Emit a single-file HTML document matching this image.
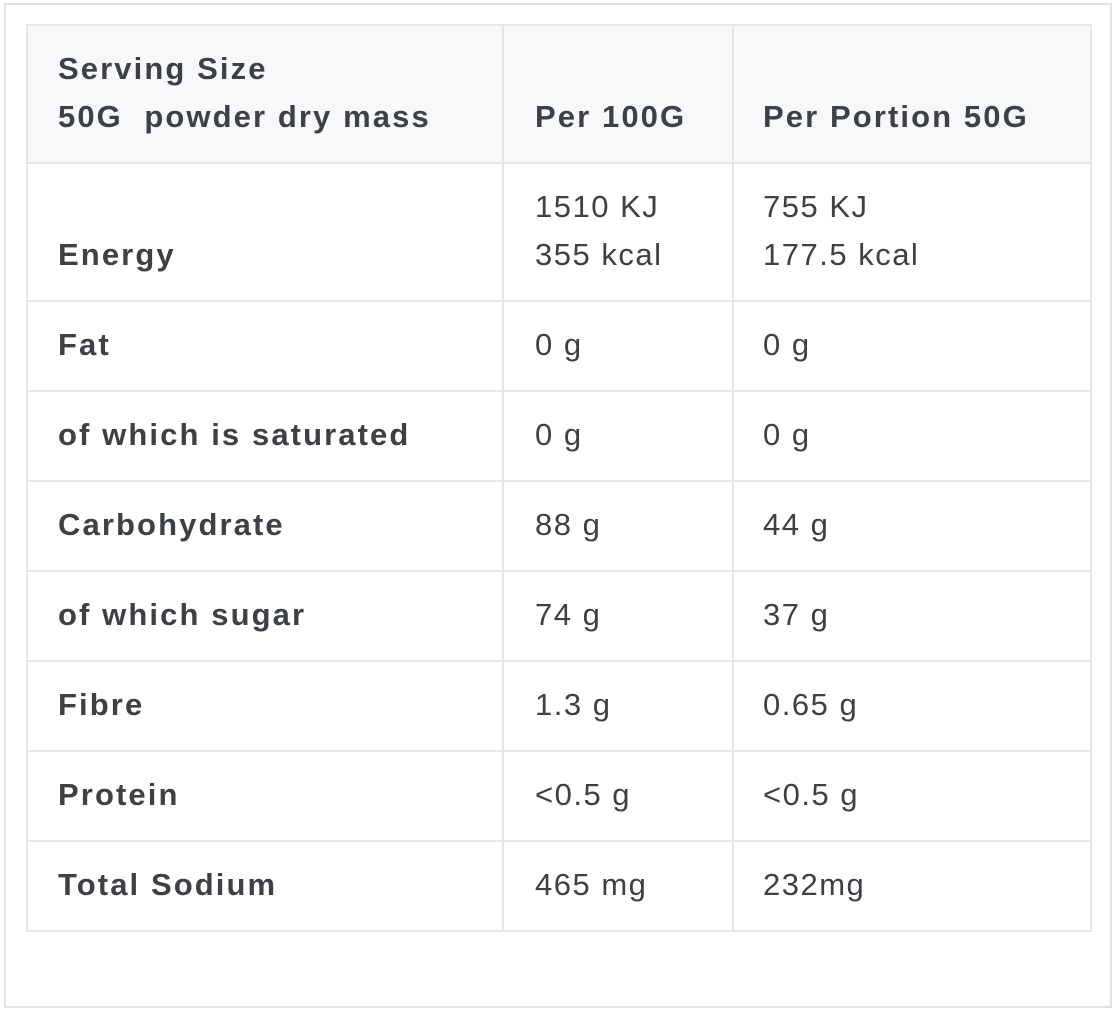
<!DOCTYPE html>
<html><head><style>
body{margin:0;width:1116px;height:1014px;background:#fff;position:relative;font-family:"Liberation Sans",sans-serif;color:#3d4045;}
.outer{position:absolute;left:4px;top:3px;width:1104px;height:1001px;border:2px solid #e2e2e2;}
.hdr{position:absolute;left:27px;top:26px;width:1063px;height:136px;background:#f7f8fa;}
.h{position:absolute;background:#e6e6e6;height:2px;left:26px;width:1066px;}
.v{position:absolute;background:#e6e6e6;width:2px;top:25px;height:907px;}
.t{position:absolute;font-size:31px;line-height:30px;white-space:nowrap;letter-spacing:1.5px;}
.b{font-weight:bold;letter-spacing:2.1px;}
</style></head><body>
<div class="outer"></div>
<div class="hdr"></div>
<div class="h" style="top:24px"></div>
<div class="h" style="top:162px"></div>
<div class="h" style="top:300px"></div>
<div class="h" style="top:390px"></div>
<div class="h" style="top:480px"></div>
<div class="h" style="top:570px"></div>
<div class="h" style="top:660px"></div>
<div class="h" style="top:750px"></div>
<div class="h" style="top:840px"></div>
<div class="h" style="top:930px"></div>
<div class="v" style="left:26px"></div>
<div class="v" style="left:502px"></div>
<div class="v" style="left:732px"></div>
<div class="v" style="left:1090px"></div>

<div class="t b" style="left:58px;top:54px">Serving Size</div>
<div class="t b" style="left:58px;top:102px">50G&nbsp; powder dry mass</div>
<div class="t b" style="left:535px;top:102px">Per 100G</div>
<div class="t b" style="left:763px;top:102px">Per Portion 50G</div>

<div class="t b" style="left:58px;top:240px">Energy</div>
<div class="t" style="left:535px;top:192px">1510 KJ</div>
<div class="t" style="left:535px;top:240px">355 kcal</div>
<div class="t" style="left:763px;top:192px">755 KJ</div>
<div class="t" style="left:763px;top:240px">177.5 kcal</div>

<div class="t b" style="left:58px;top:330px">Fat</div>
<div class="t" style="left:535px;top:330px">0 g</div>
<div class="t" style="left:763px;top:330px">0 g</div>

<div class="t b" style="left:58px;top:420px">of which is saturated</div>
<div class="t" style="left:535px;top:420px">0 g</div>
<div class="t" style="left:763px;top:420px">0 g</div>

<div class="t b" style="left:58px;top:510px">Carbohydrate</div>
<div class="t" style="left:535px;top:510px">88 g</div>
<div class="t" style="left:763px;top:510px">44 g</div>

<div class="t b" style="left:58px;top:600px">of which sugar</div>
<div class="t" style="left:535px;top:600px">74 g</div>
<div class="t" style="left:763px;top:600px">37 g</div>

<div class="t b" style="left:58px;top:690px">Fibre</div>
<div class="t" style="left:535px;top:690px">1.3 g</div>
<div class="t" style="left:763px;top:690px">0.65 g</div>

<div class="t b" style="left:58px;top:780px">Protein</div>
<div class="t" style="left:535px;top:780px">&lt;0.5 g</div>
<div class="t" style="left:763px;top:780px">&lt;0.5 g</div>

<div class="t b" style="left:58px;top:870px">Total Sodium</div>
<div class="t" style="left:535px;top:870px">465 mg</div>
<div class="t" style="left:763px;top:870px">232mg</div>
</body></html>
